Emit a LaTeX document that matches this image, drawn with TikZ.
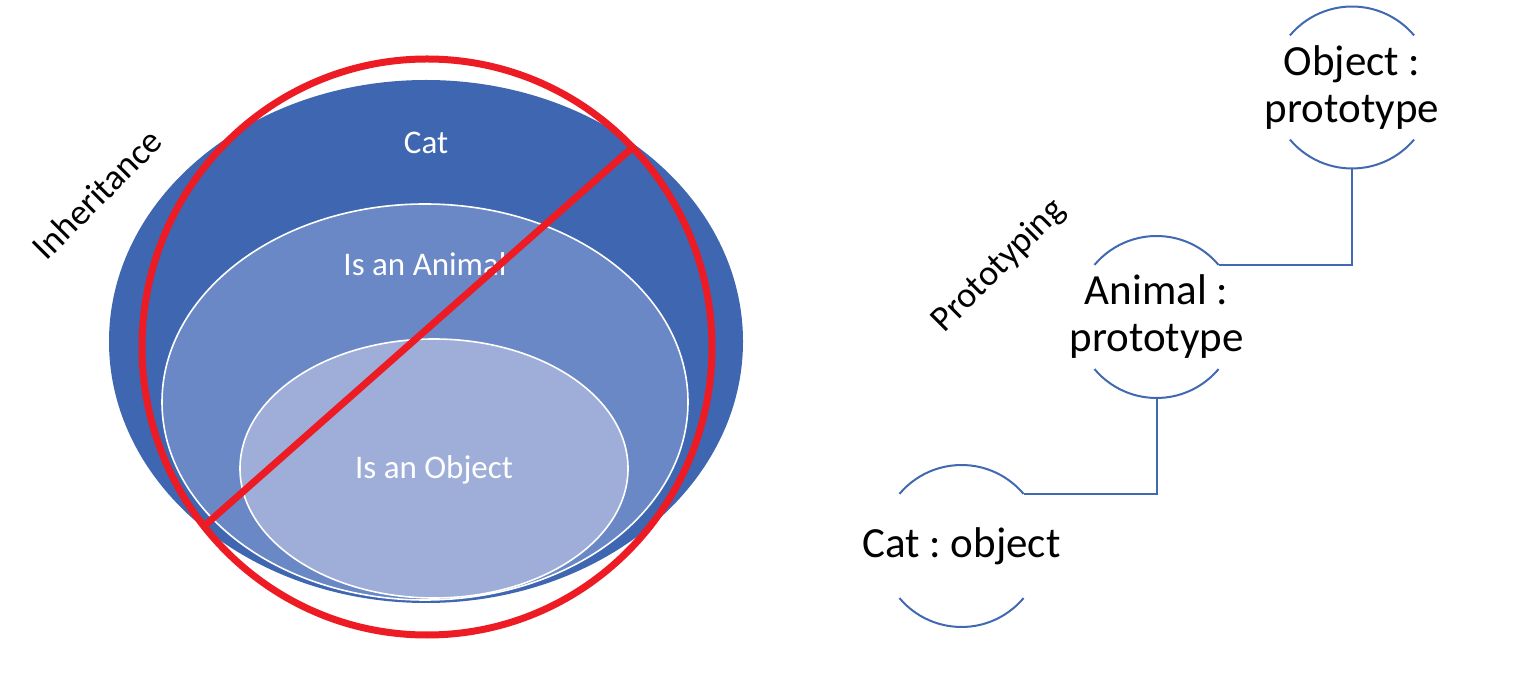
\documentclass[tikz,border=0pt]{standalone}
\usepackage{fontspec}
\setmainfont{Carlito}
\frenchspacing
\definecolor{outerblue}{HTML}{3F66B0}
\definecolor{midblue}{HTML}{6A88C6}
\definecolor{innerblue}{HTML}{9EAED8}
\definecolor{crossred}{HTML}{ED1C24}
\definecolor{arcblue}{HTML}{4169B2}
\tikzset{
  ringlabel/.style={text=white, font=\fontsize{33}{38}\selectfont, anchor=base, inner sep=0pt},
  sidelabel/.style={text=black, font=\fontsize{36}{42}\selectfont, rotate=45, inner sep=0pt},
  protocircle/.style={circle, minimum size=162pt, inner sep=0pt, outer sep=0pt},
  prototext/.style={align=center, inner sep=0pt, font=\fontsize{43}{47}\selectfont},
  arcline/.style={draw=arcblue, line width=2pt},
  crossline/.style={draw=crossred, line width=7pt},
  whiteedge/.style={draw=white, line width=1.6pt}
}
\begin{document}
\begin{tikzpicture}[x=1pt,y=1pt]
\useasboundingbox (0,0) rectangle (1513,683);
% ---- Inheritance diagram ----
\fill[outerblue] (426,341.5) ellipse [x radius=317, y radius=261.5];
\fill[midblue] (425,281) ellipse [x radius=263, y radius=198];
\draw[whiteedge] (425,281) ellipse [x radius=263, y radius=198];
\fill[innerblue] (434,214.5) ellipse [x radius=194, y radius=129.5];
\draw[whiteedge] (434,214.5) ellipse [x radius=194, y radius=129.5];
\node[ringlabel] (catlbl) at (426,529.5) {Cat};
\node[ringlabel] (animallbl) at (425,407) {Is an Animal};
\node[ringlabel] (objectlbl) at (434,204) {Is an Object};
\node[sidelabel] (inherit) at (97,489) {Inheritance};
% red cross-out
\draw[crossline] (427,336) ellipse [x radius=285, y radius=288];
\coordinate (slashA) at (203,156);
\coordinate (slashB) at (632.5,535.5);
\draw[crossline] (slashA) -- (slashB);
% ---- Prototyping diagram ----
\node[sidelabel] (proto) at (999,417) {Prototyping};
\node[protocircle] (obj) at (1352,595.5) {};
\node[protocircle] (ani) at (1156.5,366) {};
\node[protocircle] (cat) at (961.5,137) {};
\node[prototext] (objtxt) at (obj.center) {Object :\\prototype};
\node[prototext] (anitxt) at (ani.center) {Animal :\\prototype};
\node[prototext] (cattxt) at (cat.center) {Cat : object};
\foreach \n in {obj,ani,cat}{
  \draw[arcline] (\n.140) arc[start angle=140, end angle=40, radius=81pt];
  \draw[arcline] (\n.220) arc[start angle=220, end angle=320, radius=81pt];
}
\draw[arcline] (cat.40) -| (ani.south);
\draw[arcline] (ani.40) -| (obj.south);
\end{tikzpicture}
\end{document}
